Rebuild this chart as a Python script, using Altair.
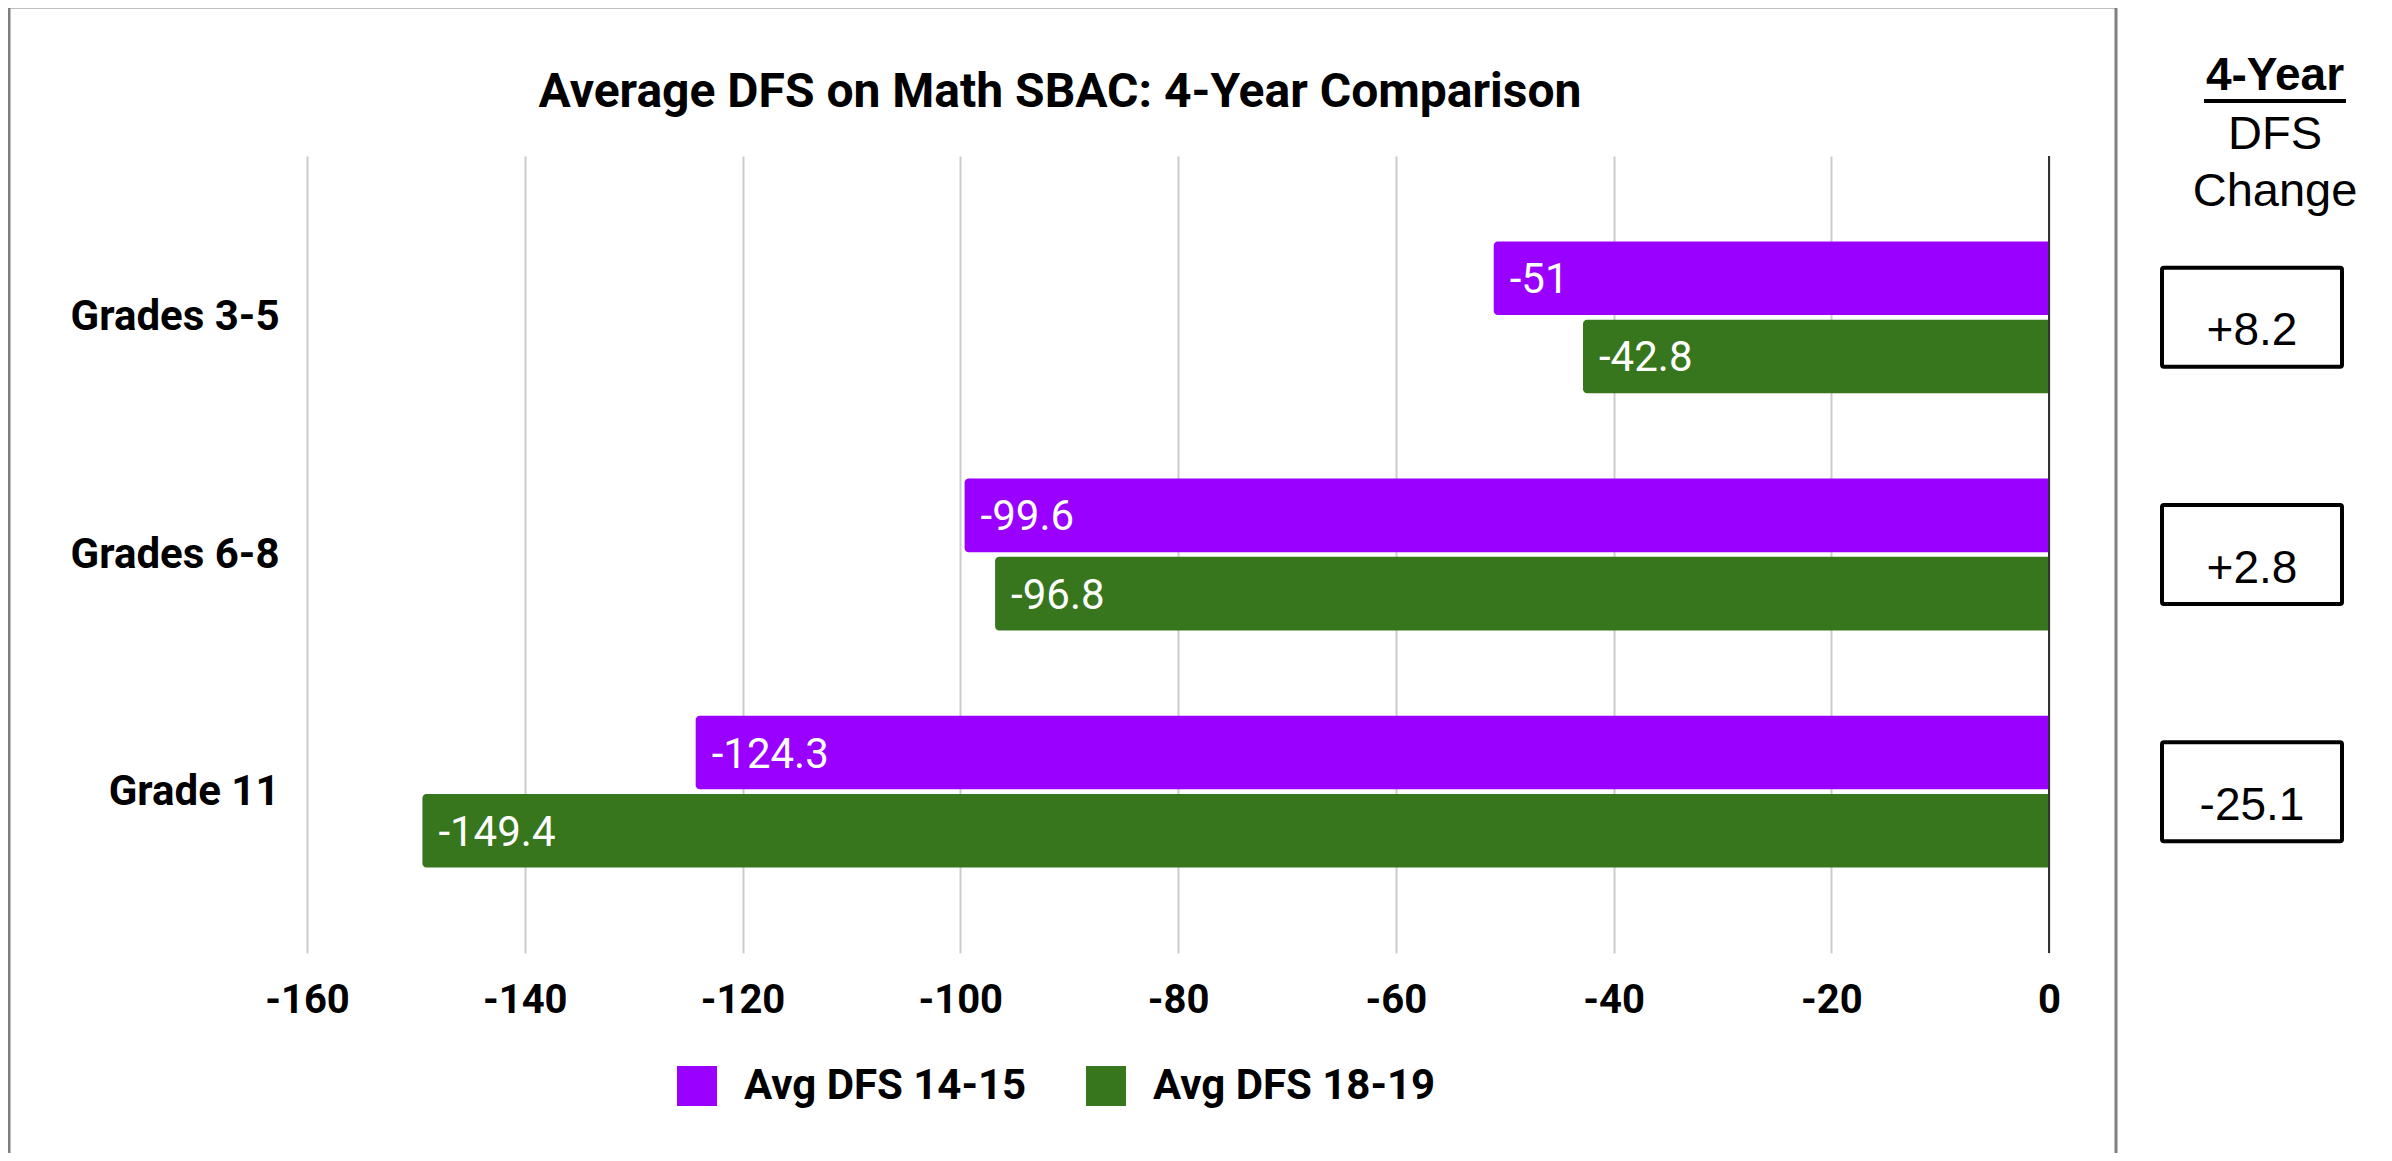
import altair as alt
import pandas as pd

# ---------------- data ----------------
categories = ["Grades 3-5", "Grades 6-8", "Grade 11"]
series_names = ["Avg DFS 14-15", "Avg DFS 18-19"]
dfs_14_15 = [-51, -99.6, -124.3]
dfs_18_19 = [-42.8, -96.8, -149.4]
change_labels = ["+8.2", "+2.8", "-25.1"]
x_ticks = [-160, -140, -120, -100, -80, -60, -40, -20, 0]
bar_colors = ["#9900ff", "#38761d"]
title_text = "Average DFS on Math SBAC: 4-Year Comparison"
side_heading = ["4-Year", "DFS", "Change"]

rows = []
for i, c in enumerate(categories):
    for s, vals in zip(series_names, [dfs_14_15, dfs_18_19]):
        rows.append({"Grade": c, "Series": s, "DFS": vals[i], "Label": f"{vals[i]:g}"})
bars_df = pd.DataFrame(rows)
change_df = pd.DataFrame({"Grade": categories, "Change": change_labels})
zero_df = pd.DataFrame({"DFS": [0]})
head1_df = pd.DataFrame({"t": [side_heading[0]]})
head2_df = pd.DataFrame({"t": [side_heading[1] + "\n" + side_heading[2]]})
one_df = pd.DataFrame({"k": [0]})

W, H = 1742, 797

x_enc = alt.X(
    "DFS:Q",
    stack=None,
    scale=alt.Scale(domain=[-160, 0], nice=False, zero=False),
    axis=alt.Axis(
        title=None, values=x_ticks, labelExpr="datum.value + ''", grid=True,
        gridColor="#cccccc", gridWidth=2, ticks=False, domain=False,
        labelFont="Roboto", labelFontWeight="bold", labelFontSize=40,
        labelColor="#000000", labelPadding=27, labelFlush=False,
        labelOverlap=False,
    ),
)
y_enc = alt.Y(
    "Grade:N",
    sort=categories,
    scale=alt.Scale(domain=categories, paddingInner=0.36, paddingOuter=0.36),
    axis=alt.Axis(
        title=None, ticks=False, domain=False, grid=False, labelFont="Roboto",
        labelFontWeight="bold", labelFontSize=42, labelColor="#000000",
        labelPadding=28, labelLimit=600,
    ),
)
yoff_enc = alt.YOffset("Series:N", sort=series_names,
                       scale=alt.Scale(domain=series_names, paddingInner=0.06))

frame_color = "#7f7f7f"
frame_left = alt.Chart(one_df).mark_rule(color=frame_color, strokeWidth=3).encode(
    x=alt.value(-298), y=alt.value(-149), y2=alt.value(997))
frame_top = alt.Chart(one_df).mark_rule(color=frame_color, strokeWidth=3).encode(
    x=alt.value(-298), x2=alt.value(1809), y=alt.value(-149))
frame_right = alt.Chart(one_df).mark_rule(color=frame_color, strokeWidth=3).encode(
    x=alt.value(1809), y=alt.value(-149), y2=alt.value(997))

bars = alt.Chart(bars_df).mark_bar(cornerRadiusTopLeft=4, cornerRadiusBottomLeft=4).encode(
    x=x_enc,
    y=y_enc,
    yOffset=yoff_enc,
    color=alt.Color(
        "Series:N", sort=series_names,
        scale=alt.Scale(domain=series_names, range=bar_colors),
        legend=alt.Legend(
            title=None, orient="none", legendX=369, legendY=909,
            direction="horizontal", symbolType="square", symbolSize=1600,
            symbolStrokeWidth=0, symbolOpacity=1, labelFont="Roboto",
            labelFontWeight="bold", labelFontSize=42, labelColor="#000000",
            labelOffset=26, columnPadding=58, padding=0, labelLimit=600,
        ),
    ),
)

labels = alt.Chart(bars_df).mark_text(
    align="left", baseline="middle", dx=16, dy=2, font="Roboto",
    fontSize=42, color="white",
).encode(x=x_enc, y=y_enc, yOffset=yoff_enc, text="Label:N")

zero_rule = alt.Chart(zero_df).mark_rule(color="#333333", strokeWidth=2).encode(x=x_enc)

boxes = alt.Chart(change_df).mark_bar(fill="white", stroke="black", strokeWidth=4,
                                      cornerRadius=2).encode(
    y=y_enc, x=alt.value(1855), x2=alt.value(2035), size=alt.value(99))

box_text = alt.Chart(change_df).mark_text(
    font="Liberation Sans", fontSize=46, baseline="middle", align="center",
    dy=14, color="black",
).encode(y=y_enc, x=alt.value(1945), text="Change:N")

head1 = alt.Chart(head1_df).mark_text(
    font="Liberation Sans", fontSize=46, fontWeight="bold", baseline="middle",
    align="center", color="black",
).encode(x=alt.value(1968), y=alt.value(-80), text="t:N")

underline = alt.Chart(one_df).mark_rule(color="black", strokeWidth=4).encode(
    x=alt.value(1897), x2=alt.value(2039), y=alt.value(-55))

head2 = alt.Chart(head2_df).mark_text(
    font="Liberation Sans", fontSize=47, baseline="middle", align="center",
    color="black", lineBreak="\n", lineHeight=57,
).encode(x=alt.value(1968), y=alt.value(-21), text="t:N")

chart = alt.layer(
    frame_left, frame_top, frame_right, bars, labels, zero_rule,
    boxes, box_text, head1, underline, head2,
).properties(
    width=W,
    height=H,
    autosize=alt.AutoSizeParams(type="none"),
    padding={"left": 299, "top": 148, "right": 329, "bottom": 200},
    title=alt.Title(
        title_text, font="Roboto", fontSize=48, fontWeight="bold",
        color="black", anchor="middle", frame="group", dx=-118, offset=-149,
        baseline="alphabetic",
    ),
    background="white",
).configure_view(strokeWidth=0)

chart.save("out.html", embed_options={"renderer": "svg", "actions": False})
